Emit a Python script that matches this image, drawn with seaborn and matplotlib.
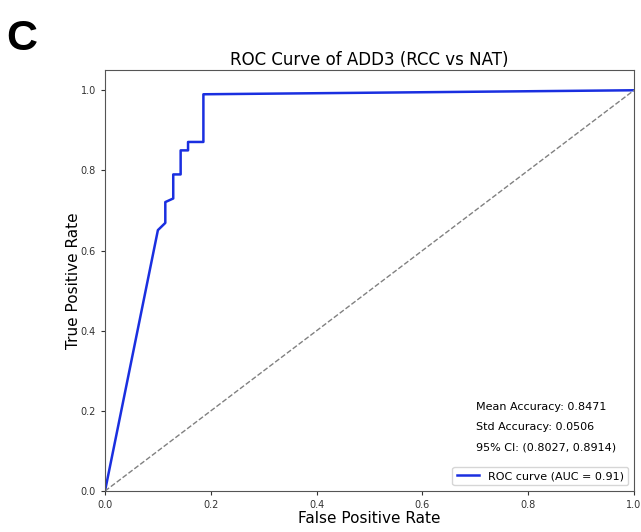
import matplotlib
matplotlib.use("Agg")
import matplotlib.pyplot as plt
import seaborn as sns
import pandas as pd

fpr = [0.0, 0.100, 0.114, 0.114, 0.129, 0.129, 0.143, 0.143, 0.157, 0.157, 0.186, 0.186, 1.0]
tpr = [0.0, 0.651, 0.669, 0.721, 0.730, 0.790, 0.790, 0.850, 0.850, 0.871, 0.871, 0.990, 1.0]
diag_x = [0.0, 1.0]
diag_y = [0.0, 1.0]
auc = 0.91
stats_lines = ["Mean Accuracy: 0.8471", "Std Accuracy: 0.0506", "95% CI: (0.8027, 0.8914)"]
xticks = [0.0, 0.2, 0.4, 0.6, 0.8, 1.0]
yticks = [0.0, 0.2, 0.4, 0.6, 0.8, 1.0]

plt.rcParams["font.family"] = ["DejaVu Sans"]
fig = plt.figure(figsize=(6.41, 5.32), dpi=100)
ax = fig.add_axes([0.1638, 0.077, 0.8253, 0.791])

df = pd.DataFrame({"fpr": fpr, "tpr": tpr})
sns.lineplot(data=df, x="fpr", y="tpr", sort=False, estimator=None, ax=ax,
             color="#1a2fe0", linewidth=1.8, label=f"ROC curve (AUC = {auc:.2f})")
ddf = pd.DataFrame({"x": diag_x, "y": diag_y})
sns.lineplot(data=ddf, x="x", y="y", sort=False, estimator=None, ax=ax,
             color="gray", linestyle="--", linewidth=1.0)

ax.set_xlim(0, 1.0)
ax.set_ylim(0, 1.05)
ax.set_xticks(xticks)
ax.set_yticks(yticks)
ax.tick_params(labelsize=7, colors="#333333", length=3)
for s in ax.spines.values():
    s.set_color("#555555")
ax.set_xlabel("False Positive Rate", fontsize=11, labelpad=1)
ax.set_ylabel("True Positive Rate", fontsize=11, labelpad=0)
ax.set_title("ROC Curve of ADD3 (RCC vs NAT)", fontsize=12, pad=4)

for i, t in enumerate(stats_lines):
    ax.text(0.701, 0.20 - i * 0.048, t, transform=ax.transAxes, fontsize=8,
            va="center", ha="left")

leg = ax.legend(loc="lower right", fontsize=8, frameon=True, handlelength=2.0)
leg.get_frame().set_edgecolor("#cccccc")

fig.text(0.009, 0.927, "C", fontsize=31, fontweight="bold",
         family=["Liberation Sans", "DejaVu Sans"], va="center", ha="left")

fig.savefig("out.png", dpi=100)
